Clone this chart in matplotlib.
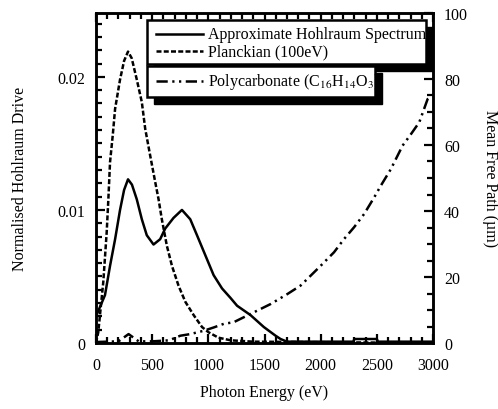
import matplotlib
matplotlib.use("Agg")
import matplotlib.pyplot as plt
from matplotlib.patches import Rectangle
from matplotlib.lines import Line2D
from matplotlib.ticker import MultipleLocator, FuncFormatter

plt.rcParams['font.family'] = ['Liberation Serif', 'DejaVu Serif']
plt.rcParams['mathtext.fontset'] = 'stix'
plt.rcParams['font.size'] = 11.5

# hohlraum spectrum (normalised)
E_hohl = [0, 80, 125, 170, 214, 250, 285, 320, 363, 408, 452, 512, 571, 616, 690,
          765, 839, 899, 973, 1047, 1122, 1196, 1256, 1375, 1494, 1598, 1643, 1700,
          2000, 2290, 2300, 2500, 2510, 3000]
I_hohl = [0.0020, 0.0036, 0.0058, 0.0078, 0.0100, 0.0115, 0.0123, 0.0119, 0.0108,
          0.0093, 0.0081, 0.0074, 0.0078, 0.0086, 0.0094, 0.0100, 0.0093, 0.0081,
          0.0066, 0.0051, 0.0041, 0.0034, 0.0028, 0.0021, 0.0012, 0.00055, 0.0003,
          0.0001, 0.0001, 0.0001, 0.0003, 0.0003, 0.0001, 0.0001]

# 100 eV Planckian
E_planck = [0, 20, 65, 95, 110, 125, 149, 170, 214, 250, 285, 318, 363, 408, 438,
            482, 527, 557, 586, 631, 676, 735, 795, 869, 944, 1003, 1090, 1200,
            1400, 3000]
I_planck = [0.0, 0.0008, 0.0046, 0.0083, 0.0108, 0.0136, 0.0156, 0.0176, 0.0198,
            0.0212, 0.0219, 0.0214, 0.0198, 0.0181, 0.0161, 0.0141, 0.0121, 0.0108,
            0.0093, 0.0073, 0.0058, 0.0043, 0.0031, 0.0021, 0.0012, 0.0008, 0.0004,
            0.0002, 0.0001, 0.0]

# polycarbonate mean free path (um)
E_pc = [0, 200, 290, 380, 500, 650, 750, 839, 958, 1047, 1137, 1226, 1345, 1435,
        1554, 1702, 1821, 1896, 2000, 2119, 2208, 2298, 2387, 2476, 2536, 2625,
        2729, 2804, 2878, 2952, 2975]
mfp_pc = [0.3, 0.5, 2.7, 0.5, 0.5, 0.8, 2.2, 2.7, 3.7, 4.7, 5.8, 6.3, 8.3, 9.8,
          11.8, 14.8, 17.4, 19.9, 23.4, 27.5, 31.5, 35.1, 39.1, 44.1, 47.7, 52.7,
          59.8, 63.3, 66.9, 73.9, 74.5]

fig = plt.figure(figsize=(4.98, 4.10), dpi=100)
ax = fig.add_axes([96 / 498, 1 - 344 / 410, 337 / 498, 330 / 410])
ax2 = ax.twinx()

lw = 1.8
dash = (0, (2.0, 0.9))
dashdotdot = (0, (4.5, 1.8, 0.9, 1.8, 0.9, 1.8))

ax.plot(E_hohl, I_hohl, color='k', lw=lw, zorder=3)
ax.plot(E_planck, I_planck, color='k', lw=lw, ls=dash, zorder=3)
ax2.plot(E_pc, mfp_pc, color='k', lw=lw, ls=dashdotdot)

ax.set_xlim(0, 3000)
ax.set_ylim(0, 0.0248)
ax2.set_ylim(0, 100)

ax.xaxis.set_major_locator(MultipleLocator(500))
ax.xaxis.set_minor_locator(MultipleLocator(100))
ax.yaxis.set_major_locator(MultipleLocator(0.01))
ax.yaxis.set_minor_locator(MultipleLocator(0.001))
ax.yaxis.set_major_formatter(FuncFormatter(lambda v, p: '0' if abs(v) < 1e-9 else f'{v:g}'))
ax2.yaxis.set_major_locator(MultipleLocator(20))
ax2.yaxis.set_minor_locator(MultipleLocator(5))

ax.tick_params(which='both', direction='in', top=True, right=False, width=1.6)
ax.tick_params(which='major', length=6.5, pad=8)
ax.tick_params(which='minor', length=4)
ax.tick_params(axis='x', pad=10)
ax2.tick_params(which='both', direction='in', width=1.6)
ax2.tick_params(which='major', length=6.5, pad=8)
ax2.tick_params(which='minor', length=4)

for a in (ax, ax2):
    for s in a.spines.values():
        s.set_linewidth(1.8)

ax.set_xlabel('Photon Energy (eV)', labelpad=8)
fig.text(20 / 498, 1 - 179 / 410, 'Normalised Hohlraum Drive',
         rotation=90, ha='center', va='center')
fig.text(490 / 498, 1 - 179 / 410, 'Mean Free Path (µm)',
         rotation=270, ha='center', va='center')

# legend boxes with offset black shadows (figure pixel coords)
W, H = 498, 410


def box(x0, y0, x1, y1, off=7):
    sh = Rectangle((((x0 + off) / W), 1 - (y1 + off) / H), (x1 - x0) / W, (y1 - y0) / H,
                   transform=fig.transFigure, facecolor='k', edgecolor='k', zorder=10)
    fr = Rectangle((x0 / W, 1 - y1 / H), (x1 - x0) / W, (y1 - y0) / H,
                   transform=fig.transFigure, facecolor='white', edgecolor='k',
                   lw=1.8, zorder=11)
    fig.add_artist(sh)
    fig.add_artist(fr)


box(147, 21, 426, 65)
box(147, 67, 375, 98)

entries = [
    (35, '-', 'Approximate Hohlraum Spectrum'),
    (52, dash, 'Planckian (100eV)'),
    (82, dashdotdot, 'Polycarbonate (C$_{16}$H$_{14}$O$_{3}$)'),
]
for yy, ls, label in entries:
    fig.add_artist(Line2D([156 / W, 203 / W], [1 - yy / H, 1 - yy / H],
                          transform=fig.transFigure, color='k', lw=lw, ls=ls,
                          zorder=12))
    fig.text(208 / W, 1 - yy / H, label, ha='left', va='center', zorder=12)

fig.savefig('out.png', dpi=100)
